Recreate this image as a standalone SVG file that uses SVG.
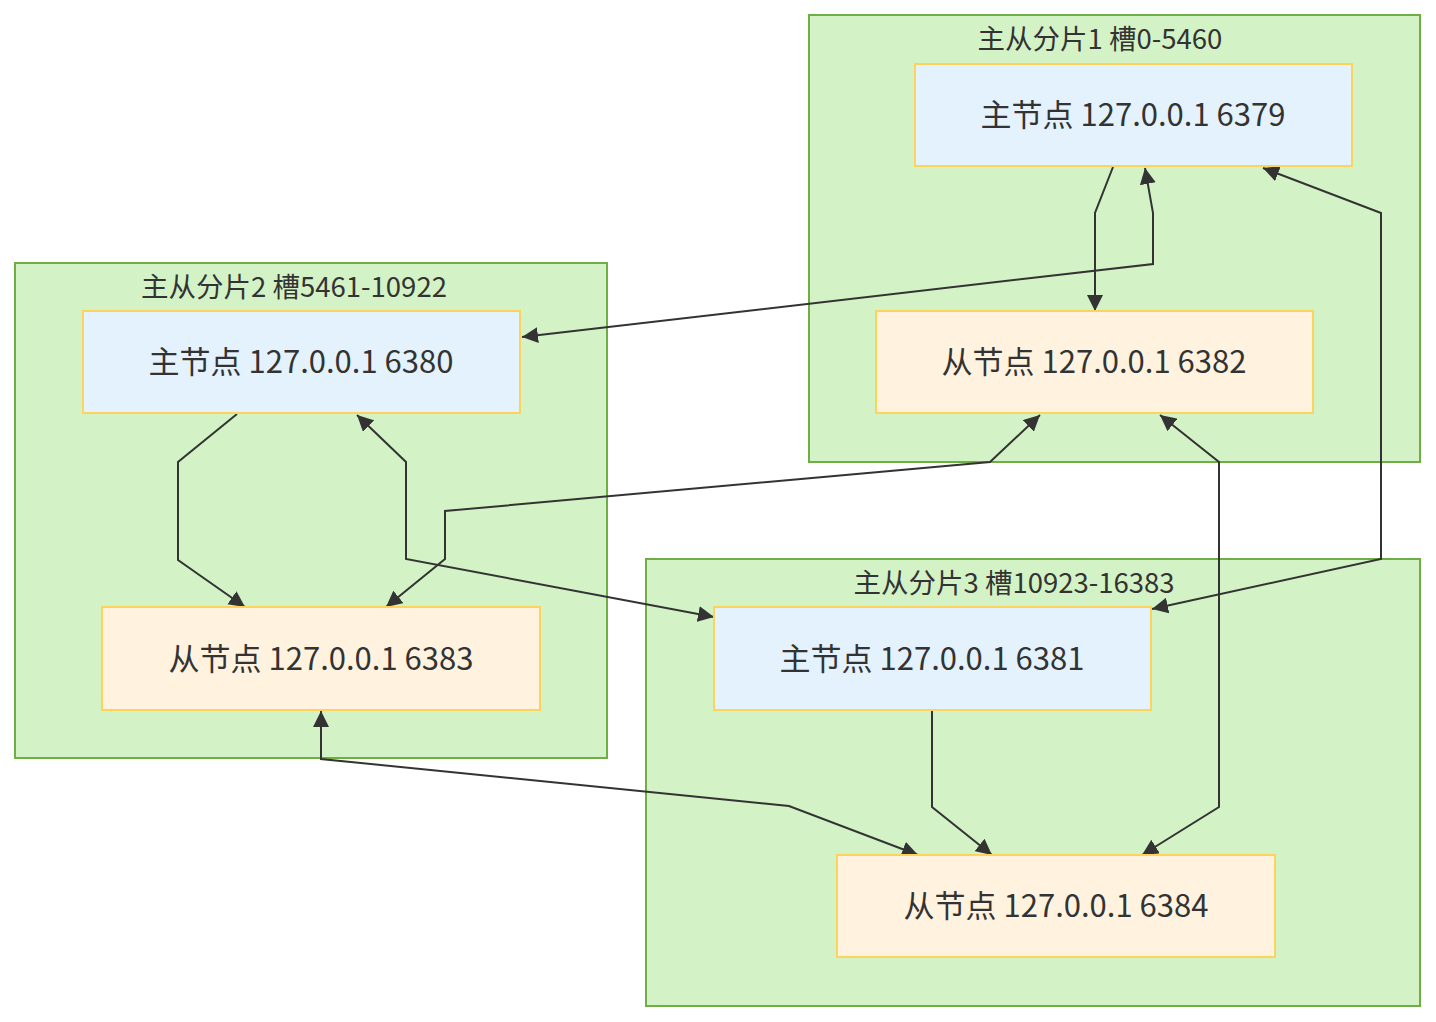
<svg xmlns="http://www.w3.org/2000/svg" width="1436" height="1022" viewBox="0 0 1436 1022">
<style>
.cluster{fill:#d3f2c6;stroke:#6fae45;stroke-width:2}
.ctitle{font-family:"Noto Sans CJK SC","Noto Sans",sans-serif;font-size:27.5px;fill:#333;text-anchor:middle}
.master{fill:#e3f2fd;stroke:#fdd35c;stroke-width:2}
.slave{fill:#fff3e0;stroke:#fdd35c;stroke-width:2}
.ntext{font-family:"Noto Sans CJK SC","Noto Sans",sans-serif;font-size:31px;fill:#333;text-anchor:middle;dominant-baseline:central}
.edge{fill:none;stroke:#333;stroke-width:2}
.one{marker-end:url(#arrow)}
.two{marker-start:url(#arrowS);marker-end:url(#arrow)}
</style>
<defs>
<marker id="arrow" viewBox="0 0 10 10" refX="10" refY="5" markerUnits="userSpaceOnUse" markerWidth="16" markerHeight="16" orient="auto">
<path d="M0,0 L10,5 L0,10 z" fill="#333"/>
</marker>
<marker id="arrowS" viewBox="0 0 10 10" refX="10" refY="5" markerUnits="userSpaceOnUse" markerWidth="16" markerHeight="16" orient="auto-start-reverse">
<path d="M0,0 L10,5 L0,10 z" fill="#333"/>
</marker>
</defs>
<rect width="1436" height="1022" fill="#ffffff"/>
<g id="cluster1">
<rect class="cluster" x="809" y="15" width="611" height="447"/>
<text class="ctitle" x="1100" y="49">主从分片1 槽0-5460</text>
</g>
<g id="cluster2">
<rect class="cluster" x="15" y="263" width="592" height="495"/>
<text class="ctitle" x="294" y="297">主从分片2 槽5461-10922</text>
</g>
<g id="cluster3">
<rect class="cluster" x="646" y="559" width="774" height="447"/>
<text class="ctitle" x="1014" y="593">主从分片3 槽10923-16383</text>
</g>
<g id="edges">
<polyline class="edge one" points="1113,167 1095,213 1095,311"/>
<polyline class="edge two" points="1145,168 1153,213 1153,264 522,337"/>
<polyline class="edge two" points="1263,168 1381,213 1381,559 1152,609"/>
<polyline class="edge one" points="237,414 178,462 178,560 245,607"/>
<polyline class="edge two" points="357,415 406,462 406,559 714,617"/>
<polyline class="edge two" points="1040,415 990,462 445,511 445,559 386,607"/>
<polyline class="edge two" points="1160,415 1219,462 1219,807 1142,855"/>
<polyline class="edge two" points="321,711 321,759 789,806 918,855"/>
<polyline class="edge one" points="932,711 932,807 992,855"/>
</g>
<g id="n6379">
<rect class="master" x="915" y="64" width="437" height="102"/>
<text class="ntext" x="1133" y="112">主节点 127.0.0.1 6379</text>
</g>
<g id="n6382">
<rect class="slave" x="876" y="311" width="437" height="102"/>
<text class="ntext" x="1094" y="359">从节点 127.0.0.1 6382</text>
</g>
<g id="n6380">
<rect class="master" x="83" y="311" width="437" height="102"/>
<text class="ntext" x="301" y="359">主节点 127.0.0.1 6380</text>
</g>
<g id="n6383">
<rect class="slave" x="102" y="607" width="438" height="103"/>
<text class="ntext" x="321" y="656">从节点 127.0.0.1 6383</text>
</g>
<g id="n6381">
<rect class="master" x="714" y="607" width="437" height="103"/>
<text class="ntext" x="932" y="656">主节点 127.0.0.1 6381</text>
</g>
<g id="n6384">
<rect class="slave" x="837" y="855" width="438" height="102"/>
<text class="ntext" x="1056" y="903">从节点 127.0.0.1 6384</text>
</g>
</svg>
